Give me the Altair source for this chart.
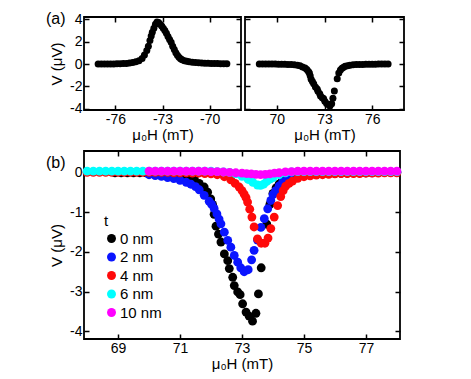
import altair as alt
import pandas as pd

FONT = "Liberation Sans"

# ---------------- panel (a), negative field (0 nm) ----------------
a_left_h = [-77.1, -76.9, -76.7, -76.5, -76.3, -76.1, -75.9, -75.7, -75.5, -75.3,
            -75.1, -74.9, -74.7, -74.5, -74.3, -74.15, -74.0, -73.9, -73.8, -73.72,
            -73.65, -73.55, -73.45, -73.35, -73.25, -73.15, -73.05, -72.95, -72.85, -72.75,
            -72.65, -72.55, -72.45, -72.35, -72.25, -72.15, -72.05, -71.95, -71.85, -71.75,
            -71.6, -71.45, -71.3, -71.1, -70.9, -70.7, -70.5, -70.3, -70.1, -69.9,
            -69.7, -69.5, -69.3, -69.1, -68.9]
a_left_v = [0.0, 0.0, 0.0, 0.0, 0.01, 0.01, 0.02, 0.03, 0.04, 0.06,
            0.1, 0.14, 0.2, 0.3, 0.5, 0.8, 1.2, 1.6, 2.1, 2.5,
            2.85, 3.2, 3.55, 3.75, 3.7, 3.55, 3.4, 3.2, 3.0, 2.75,
            2.45, 2.2, 1.95, 1.6, 1.3, 1.0, 0.78, 0.6, 0.47, 0.38,
            0.3, 0.24, 0.2, 0.17, 0.14, 0.12, 0.1, 0.08, 0.07, 0.06,
            0.05, 0.04, 0.03, 0.03, 0.03]

# ---------------- 0 nm, positive field (panel (a) right and (b)) ----------------
t0_h = [68.9, 69.1, 69.3, 69.5, 69.7, 69.9, 70.1, 70.3, 70.5, 70.7,
        70.9, 71.1, 71.3, 71.46, 71.62, 71.78, 71.89, 71.99, 72.05, 72.1,
        72.16, 72.24, 72.32, 72.43, 72.54, 72.59, 72.7, 72.75, 72.86, 72.94,
        73.02, 73.13, 73.23, 73.34, 73.45, 73.53, 73.62, 73.8, 73.9, 74.0,
        74.1, 74.2, 74.3, 74.45, 74.6, 74.8, 75.0, 75.2, 75.4, 75.6,
        75.8, 76.0, 76.2, 76.4, 76.6, 76.8, 77.0]
t0_v = [0.0, 0.0, 0.0, 0.0, 0.0, 0.0, -0.01, -0.01, -0.02, -0.03,
        -0.04, -0.06, -0.1, -0.15, -0.27, -0.36, -0.49, -0.66, -0.8, -1.05,
        -1.35, -1.55, -1.75, -2.05, -2.22, -2.42, -2.64, -2.85, -3.01, -3.08,
        -3.31, -3.52, -3.62, -3.75, -3.55, -3.06, -2.4, -1.3, -0.8, -0.52,
        -0.38, -0.28, -0.2, -0.14, -0.1, -0.07, -0.05, -0.04, -0.03, -0.02,
        -0.02, -0.01, -0.01, 0.0, 0.0, 0.0, 0.0]

# ---------------- 2 nm ----------------
t2_h = [70.0, 70.2, 70.4, 70.6, 70.8, 71.0, 71.2, 71.35, 71.5, 71.62,
        71.78, 71.94, 72.02, 72.1, 72.19, 72.26, 72.32, 72.43, 72.54, 72.64,
        72.75, 72.86, 72.96, 73.07, 73.2, 73.31, 73.39, 73.5, 73.61, 73.72,
        73.83, 73.93, 74.0, 74.09, 74.2, 74.31, 74.45, 74.6, 74.8, 75.0,
        75.2, 75.4, 75.6, 75.8, 76.0, 76.2, 76.4, 76.6, 76.8, 77.0,
        77.2, 77.4, 77.6, 77.8, 78.0]
t2_v = [-0.05, -0.07, -0.09, -0.12, -0.15, -0.19, -0.24, -0.29, -0.35, -0.43,
        -0.57, -0.72, -0.8, -0.9, -1.04, -1.17, -1.29, -1.5, -1.71, -1.88,
        -2.09, -2.26, -2.4, -2.5, -2.45, -2.2, -1.96, -1.7, -1.38, -1.16,
        -0.91, -0.7, -0.55, -0.45, -0.33, -0.24, -0.17, -0.12, -0.09, -0.07,
        -0.05, -0.04, -0.03, -0.02, -0.02, -0.01, -0.01, 0.0, 0.0, 0.0,
        0.0, 0.01, 0.01, 0.01, 0.01]

# ---------------- 4 nm ----------------
t4_h = [68.0, 68.2, 68.4, 68.6, 68.8, 69.0, 69.2, 69.4, 69.6, 69.8,
        70.0, 70.2, 70.4, 70.6, 70.8, 71.0, 71.2, 71.4, 71.6, 71.8,
        72.0, 72.2, 72.43, 72.64, 72.78, 72.91, 73.0, 73.07, 73.13, 73.18,
        73.25, 73.32, 73.39, 73.5, 73.62, 73.74, 73.84, 73.93, 74.04, 74.15,
        74.25, 74.33, 74.41, 74.52, 74.63, 74.8, 75.0, 75.2, 75.4, 75.6,
        75.8, 76.0, 76.2, 76.4, 76.6, 76.8, 77.0, 77.2, 77.4, 77.6,
        77.8, 78.0]
t4_v = [0.01, 0.01, 0.01, 0.01, 0.01, 0.01, 0.01, 0.01, 0.01, 0.01,
        0.01, 0.01, 0.01, 0.01, 0.0, 0.0, 0.0, -0.01, -0.01, -0.02,
        -0.03, -0.05, -0.1, -0.18, -0.27, -0.36, -0.45, -0.54, -0.63, -0.74,
        -0.92, -1.12, -1.37, -1.67, -1.78, -1.78, -1.65, -1.41, -1.12, -0.83,
        -0.6, -0.45, -0.34, -0.27, -0.21, -0.14, -0.1, -0.08, -0.06, -0.05,
        -0.04, -0.03, -0.02, -0.02, -0.02, -0.02, -0.01, -0.01, -0.01, 0.0,
        0.0, 0.0]

# ---------------- 6 nm ----------------
t6_h = [68.0, 68.2, 68.4, 68.6, 68.8, 69.0, 69.2, 69.4, 69.6, 69.8,
        70.0, 70.2, 70.4, 70.6, 70.8, 71.0, 71.2, 71.4, 71.6, 71.8,
        72.0, 72.2, 72.4, 72.6, 72.8, 73.0, 73.2, 73.35, 73.5, 73.6,
        73.7, 73.8, 73.9, 74.0, 74.2, 74.4, 74.6, 74.8, 75.0, 75.2,
        75.4, 75.6, 75.8, 76.0, 76.2, 76.4, 76.6, 76.8, 77.0, 77.2,
        77.4, 77.6, 77.8, 78.0]
t6_v = [0.04, 0.04, 0.04, 0.04, 0.04, 0.04, 0.04, 0.04, 0.04, 0.04,
        0.04, 0.04, 0.04, 0.04, 0.04, 0.04, 0.04, 0.04, 0.04, 0.04,
        0.04, 0.03, 0.02, 0.01, -0.03, -0.09, -0.17, -0.24, -0.31, -0.32,
        -0.29, -0.22, -0.16, -0.12, -0.05, 0.0, 0.02, 0.03, 0.03, 0.03,
        0.03, 0.03, 0.03, 0.03, 0.03, 0.03, 0.03, 0.03, 0.03, 0.03,
        0.03, 0.03, 0.03, 0.03]

# ---------------- 10 nm ----------------
t10_h = [70.0, 70.2, 70.4, 70.6, 70.8, 71.0, 71.2, 71.4, 71.6, 71.8,
         72.0, 72.2, 72.4, 72.6, 72.8, 73.0, 73.15, 73.3, 73.45, 73.6,
         73.75, 73.9, 74.05, 74.2, 74.4, 74.6, 74.8, 75.0, 75.2, 75.4,
         75.6, 75.8, 76.0, 76.2, 76.4, 76.6, 76.8, 77.0, 77.2, 77.4,
         77.6, 77.8, 78.0]
t10_v = [0.04, 0.04, 0.04, 0.04, 0.04, 0.04, 0.04, 0.04, 0.04, 0.04,
         0.03, 0.03, 0.02, 0.01, 0.0, -0.01, -0.02, -0.03, -0.04, -0.045,
         -0.04, -0.03, -0.01, 0.0, 0.02, 0.03, 0.04, 0.04, 0.04, 0.04,
         0.04, 0.04, 0.04, 0.04, 0.04, 0.04, 0.04, 0.04, 0.04, 0.04,
         0.04, 0.04, 0.04]

series_names = ["0 nm", "2 nm", "4 nm", "6 nm", "10 nm"]
series_colors = ["#000000", "#0a14ff", "#ff0a0a", "#00ffff", "#ff00ff"]
series_h = [t0_h, t2_h, t4_h, t6_h, t10_h]
series_v = [t0_v, t2_v, t4_v, t6_v, t10_v]

a_left_ticks = [-76, -73, -70]
a_right_ticks = [70, 73, 76]
a_v_ticks = [-4, -2, 0, 2, 4]
b_h_ticks = [69, 71, 73, 75, 77]
b_v_ticks = [0, -1, -2, -3, -4]

# ---------------- helpers ----------------
XTITLE = "μ₀H (mT)"
YTITLE = "V (μV)"
LBL = "'' + datum.value"


def ax(orient, values, labels=True, title=None, tpad=0):
    kw = dict(orient=orient, values=values, offset=-5, tickSize=5, tickWidth=1.5,
              tickColor="black", domain=False, grid=False, labels=labels,
              labelFontSize=14, labelPadding=2, titleFontSize=15,
              titleFontWeight="normal", titlePadding=tpad)
    if labels:
        kw["labelExpr"] = LBL
    kw["title"] = title if title is not None else ""
    return alt.Axis(**kw)


def framed(df, xscale, yscale, xticks, yticks, point, ylabels=True, color=None, extra=None):
    xa = ax("bottom", xticks, True, XTITLE, 1)
    ya = ax("left", yticks, ylabels, YTITLE if ylabels else None, 5)
    enc = dict(x=alt.X("h:Q", scale=xscale, axis=xa), y=alt.Y("v:Q", scale=yscale, axis=ya))
    if color is not None:
        enc["color"] = color
    main = alt.Chart(df).mark_circle(opacity=1, **point).encode(**enc)
    mirror = alt.Chart(df).mark_circle(opacity=0).encode(
        x=alt.X("h:Q", scale=xscale, axis=ax("top", xticks, False)),
        y=alt.Y("v:Q", scale=yscale, axis=ax("right", yticks, False)),
    )
    layers = [main, mirror]
    if extra is not None:
        layers.append(extra)
    return alt.layer(*layers).resolve_axis(x="independent", y="independent")


def panel_label(txt, x, y):
    return alt.Chart(pd.DataFrame({"t": [txt]})).mark_text(
        align="left", baseline="middle", fontSize=16, font=FONT, color="black"
    ).encode(text="t:N", x=alt.value(x), y=alt.value(y))


# ---------------- panel (a) ----------------
ya_scale = alt.Scale(domain=[-4.1, 4.2], nice=False, zero=False)
df_al = pd.DataFrame({"h": a_left_h, "v": a_left_v})
df_ar = pd.DataFrame({"h": t0_h, "v": t0_v})

a_left = framed(df_al, alt.Scale(domain=[-78, -68], nice=False, zero=False), ya_scale,
                a_left_ticks, a_v_ticks, dict(size=49, color="black"),
                extra=panel_label("(a)", -38, 2)).properties(width=157, height=93)
a_right = framed(df_ar, alt.Scale(domain=[68, 78], nice=False, zero=False), ya_scale,
                 a_right_ticks, a_v_ticks, dict(size=49, color="black"),
                 ylabels=False).properties(width=159, height=93)

# ---------------- panel (b) ----------------
rows = []
for name, hs, vs in zip(series_names, series_h, series_v):
    for h, v in zip(hs, vs):
        rows.append({"h": h, "v": v, "t": name})
df_b = pd.DataFrame(rows)

color = alt.Color("t:N", scale=alt.Scale(domain=series_names, range=series_colors),
                  legend=alt.Legend(orient="none", legendX=20, legendY=197, title="t",
                                    titleFontSize=15, titleFontWeight="normal",
                                    labelFontSize=15, symbolSize=80, symbolType="circle",
                                    rowPadding=2.5, padding=0, titlePadding=2, labelOffset=1,
                                    symbolStrokeWidth=0))

b = framed(df_b, alt.Scale(domain=[67.9, 78.1], nice=False, zero=False),
           alt.Scale(domain=[-4.2, 0.55], nice=False, zero=False),
           b_h_ticks, b_v_ticks, dict(size=78), color=color,
           extra=panel_label("(b)", -38, 12)).properties(width=316, height=188)

top = alt.hconcat(a_left, a_right, spacing=0)
chart = alt.vconcat(top, b, spacing=6).properties(
    padding={"left": 37, "top": 2, "right": 5, "bottom": 5}
).configure_view(stroke="black", strokeWidth=1.8).configure_axis(
    labelFont=FONT, titleFont=FONT, labelColor="black", titleColor="black"
).configure_legend(labelFont=FONT, titleFont=FONT, labelColor="black", titleColor="black")

chart.save("out.html", embed_options={"renderer": "svg", "actions": False})
